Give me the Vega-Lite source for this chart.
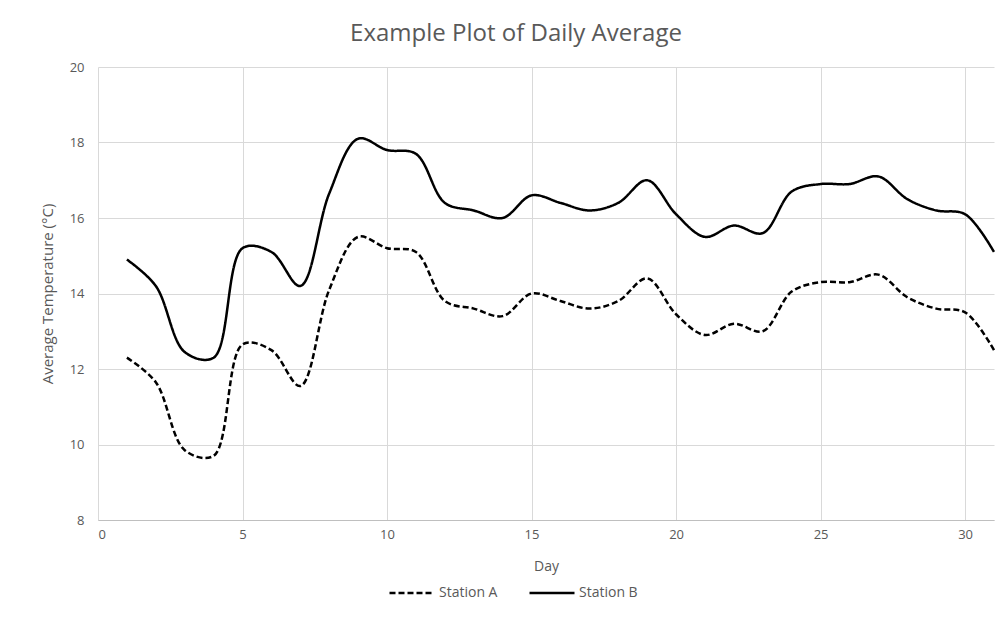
{
  "$schema": "https://vega.github.io/schema/vega-lite/v6.json",
  "width": 896,
  "height": 453,
  "autosize": {"type": "none"},
  "padding": {"left": 98, "top": 67, "right": 12, "bottom": 100},
  "background": "white",
  "title": {
    "text": "Example Plot of Daily Average",
    "font": "Open Sans",
    "fontSize": 24,
    "fontWeight": "normal",
    "color": "#595959",
    "anchor": "middle",
    "dx": -30,
    "offset": 15
  },
  "data": {
    "values": [
      {"day": 1, "station": "Station A", "temp": 12.3},
      {"day": 2, "station": "Station A", "temp": 11.65},
      {"day": 3, "station": "Station A", "temp": 9.85},
      {"day": 4, "station": "Station A", "temp": 9.7},
      {"day": 5, "station": "Station A", "temp": 12.65},
      {"day": 6, "station": "Station A", "temp": 12.5},
      {"day": 7, "station": "Station A", "temp": 11.55},
      {"day": 8, "station": "Station A", "temp": 14.1},
      {"day": 9, "station": "Station A", "temp": 15.5},
      {"day": 10, "station": "Station A", "temp": 15.2},
      {"day": 11, "station": "Station A", "temp": 15.1},
      {"day": 12, "station": "Station A", "temp": 13.8},
      {"day": 13, "station": "Station A", "temp": 13.6},
      {"day": 14, "station": "Station A", "temp": 13.4},
      {"day": 15, "station": "Station A", "temp": 14.0},
      {"day": 16, "station": "Station A", "temp": 13.8},
      {"day": 17, "station": "Station A", "temp": 13.6},
      {"day": 18, "station": "Station A", "temp": 13.8},
      {"day": 19, "station": "Station A", "temp": 14.4},
      {"day": 20, "station": "Station A", "temp": 13.45},
      {"day": 21, "station": "Station A", "temp": 12.9},
      {"day": 22, "station": "Station A", "temp": 13.2},
      {"day": 23, "station": "Station A", "temp": 13.0},
      {"day": 24, "station": "Station A", "temp": 14.05},
      {"day": 25, "station": "Station A", "temp": 14.3},
      {"day": 26, "station": "Station A", "temp": 14.3},
      {"day": 27, "station": "Station A", "temp": 14.5},
      {"day": 28, "station": "Station A", "temp": 13.9},
      {"day": 29, "station": "Station A", "temp": 13.6},
      {"day": 30, "station": "Station A", "temp": 13.5},
      {"day": 31, "station": "Station A", "temp": 12.5},
      {"day": 1, "station": "Station B", "temp": 14.9},
      {"day": 2, "station": "Station B", "temp": 14.2},
      {"day": 3, "station": "Station B", "temp": 12.45},
      {"day": 4, "station": "Station B", "temp": 12.3},
      {"day": 5, "station": "Station B", "temp": 15.2},
      {"day": 6, "station": "Station B", "temp": 15.1},
      {"day": 7, "station": "Station B", "temp": 14.2},
      {"day": 8, "station": "Station B", "temp": 16.65},
      {"day": 9, "station": "Station B", "temp": 18.1},
      {"day": 10, "station": "Station B", "temp": 17.8},
      {"day": 11, "station": "Station B", "temp": 17.7},
      {"day": 12, "station": "Station B", "temp": 16.4},
      {"day": 13, "station": "Station B", "temp": 16.2},
      {"day": 14, "station": "Station B", "temp": 16.0},
      {"day": 15, "station": "Station B", "temp": 16.6},
      {"day": 16, "station": "Station B", "temp": 16.4},
      {"day": 17, "station": "Station B", "temp": 16.2},
      {"day": 18, "station": "Station B", "temp": 16.4},
      {"day": 19, "station": "Station B", "temp": 17.0},
      {"day": 20, "station": "Station B", "temp": 16.1},
      {"day": 21, "station": "Station B", "temp": 15.5},
      {"day": 22, "station": "Station B", "temp": 15.8},
      {"day": 23, "station": "Station B", "temp": 15.6},
      {"day": 24, "station": "Station B", "temp": 16.7},
      {"day": 25, "station": "Station B", "temp": 16.9},
      {"day": 26, "station": "Station B", "temp": 16.9},
      {"day": 27, "station": "Station B", "temp": 17.1},
      {"day": 28, "station": "Station B", "temp": 16.5},
      {"day": 29, "station": "Station B", "temp": 16.2},
      {"day": 30, "station": "Station B", "temp": 16.1},
      {"day": 31, "station": "Station B", "temp": 15.1}
    ]
  },
  "mark": {"type": "line", "interpolate": "catmull-rom", "strokeWidth": 2.5, "color": "black"},
  "encoding": {
    "x": {
      "field": "day",
      "type": "quantitative",
      "title": "Day",
      "scale": {"domain": [0, 31], "nice": false, "zero": false},
      "axis": {"values": [0, 5, 10, 15, 20, 25, 30]}
    },
    "y": {
      "field": "temp",
      "type": "quantitative",
      "title": "Average Temperature (°C)",
      "scale": {"domain": [8, 20], "nice": false, "zero": false},
      "axis": {"values": [8, 10, 12, 14, 16, 18, 20]}
    },
    "strokeDash": {
      "field": "station",
      "type": "nominal",
      "title": null,
      "scale": {"domain": ["Station A", "Station B"], "range": [[6, 3], [1, 0]]},
      "legend": {
        "orient": "none",
        "direction": "horizontal",
        "legendX": 290,
        "legendY": 502,
        "symbolType": "stroke",
        "symbolSize": 2025,
        "symbolStrokeWidth": 2.5,
        "symbolStrokeColor": "black",
        "labelFont": "Open Sans",
        "labelFontSize": 14,
        "labelColor": "#595959",
        "columnPadding": 26,
        "labelOffset": 3
      }
    }
  },
  "config": {
    "view": {"stroke": null},
    "axis": {
      "labelFont": "Open Sans",
      "labelFontSize": 13,
      "labelColor": "#595959",
      "titleFont": "Open Sans",
      "titleFontWeight": "normal",
      "titleColor": "#595959",
      "gridColor": "#d9d9d9",
      "gridWidth": 1,
      "ticks": false
    },
    "axisX": {"domainColor": "#bfbfbf", "labelPadding": 8, "titlePadding": 18, "titleFontSize": 14},
    "axisY": {"domain": false, "labelPadding": 14, "titlePadding": 14, "titleFontSize": 15}
  }
}
